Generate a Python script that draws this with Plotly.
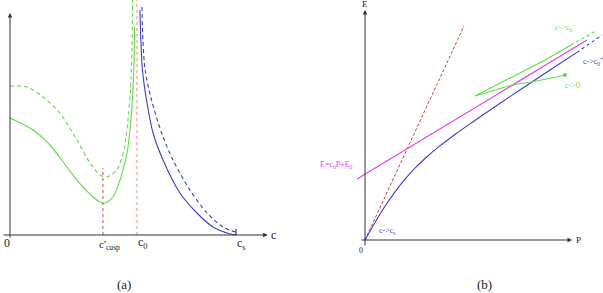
import plotly.graph_objects as go

# ---------------- Panel (a) data ----------------
green_solid_c = [0.0, 0.102, 0.177, 0.252, 0.323, 0.398, 0.420, 0.456, 0.487, 0.518, 0.535, 0.544, 0.549, 0.551]
green_solid_v = [1.17, 1.05, 0.90, 0.68, 0.48, 0.33, 0.32, 0.38, 0.55, 0.82, 1.15, 1.45, 1.75, 2.08]

green_dash_c = [0.0, 0.075, 0.146, 0.221, 0.296, 0.354, 0.398, 0.429, 0.473, 0.504, 0.522, 0.533, 0.540, 0.542]
green_dash_v = [1.49, 1.48, 1.38, 1.22, 0.95, 0.72, 0.60, 0.58, 0.65, 0.85, 1.15, 1.45, 1.85, 2.35]

blue_solid_c = [0.575, 0.579, 0.586, 0.604, 0.633, 0.677, 0.752, 0.827, 0.898, 0.960, 1.0]
blue_solid_v = [2.25, 1.95, 1.65, 1.35, 1.02, 0.75, 0.42, 0.22, 0.08, 0.02, 0.0]

blue_dash_c = [0.584, 0.588, 0.598, 0.626, 0.671, 0.721, 0.796, 0.872, 0.942, 0.996]
blue_dash_v = [2.28, 1.95, 1.65, 1.35, 1.02, 0.75, 0.45, 0.22, 0.08, 0.03]

c_cusp = 0.411
c_0 = 0.562
c_s = 1.0
cusp_line_top = 0.67
c0_line_top = 2.35

# ---------------- Panel (b) data ----------------
blue_P = [0.0, 0.10, 0.20, 0.30, 0.40, 0.50, 0.60, 0.73, 0.90, 1.07, 1.20, 1.45, 1.70, 1.95, 2.12]
blue_E = [0.0, 0.175, 0.337, 0.482, 0.609, 0.719, 0.815, 0.926, 1.055, 1.175, 1.265, 1.434, 1.60, 1.765, 1.876]
blue_ext_P = [2.12, 2.37]
blue_ext_E = [1.876, 2.05]

magenta_P = [-0.08, 2.22]
magenta_E = [0.61, 2.00]

red_P = [0.0, 0.99]
red_E = [0.0, 2.14]

green_up_P = [1.10, 1.45, 1.80, 2.06]
green_up_E = [1.44, 1.62, 1.80, 1.95]
green_ext_P = [2.06, 2.31]
green_ext_E = [1.95, 2.09]
green_low_P = [1.10, 1.30, 1.48, 1.72, 2.00]
green_low_E = [1.44, 1.50, 1.55, 1.59, 1.65]

GREEN = "#5fdc4a"
BLUE = "#3c3cc8"
MAGENTA = "#e63ce6"
RED = "#cc3a3a"
PINK = "#ffa0a0"
CUSPRED = "#e07070"
AXIS = "#333333"
FONT = "Liberation Serif"

fig = go.Figure()

def line(x, y, color, dash="solid", width=1.1, xa="x", ya="y", shape="spline"):
    fig.add_trace(go.Scatter(x=x, y=y, mode="lines", xaxis=xa, yaxis=ya,
                             line=dict(color=color, width=width, dash=dash, shape=shape,
                                       smoothing=0.8 if shape == "spline" else None),
                             hoverinfo="skip", showlegend=False))

# panel (a)
line([c_cusp, c_cusp], [0, cusp_line_top], CUSPRED, "dot", 1.3, shape="linear")
line([c_0, c_0], [0, c0_line_top], PINK, "dot", 1.3, shape="linear")
line(green_dash_c, green_dash_v, GREEN, "4px,3px")
line(green_solid_c, green_solid_v, GREEN)
line(blue_dash_c, blue_dash_v, BLUE, "4px,3px")
line(blue_solid_c, blue_solid_v, BLUE)
line([c_s, c_s], [0, 0.06], AXIS, width=1.2, shape="linear")

# panel (b)
line(red_P, red_E, RED, "3px,2px", 1.0, "x2", "y2", "linear")
line(magenta_P, magenta_E, MAGENTA, width=1.1, xa="x2", ya="y2", shape="linear")
line(blue_P, blue_E, BLUE, xa="x2", ya="y2")
line(blue_ext_P, blue_ext_E, BLUE, "3px,3px", xa="x2", ya="y2", shape="linear")
line(green_up_P, green_up_E, GREEN, xa="x2", ya="y2")
line(green_ext_P, green_ext_E, GREEN, "3px,3px", xa="x2", ya="y2", shape="linear")
line(green_low_P, green_low_E, GREEN, xa="x2", ya="y2")
fig.add_trace(go.Scatter(x=[green_low_P[-1]], y=[green_low_E[-1]], mode="markers",
                         xaxis="x2", yaxis="y2", marker=dict(color=GREEN, size=4),
                         hoverinfo="skip", showlegend=False))

anns = []
def arrow(x, y, ax, ay, xr, yr):
    anns.append(dict(x=x, y=y, ax=ax, ay=ay, xref=xr, yref=yr, axref=xr, ayref=yr,
                     text="", showarrow=True, arrowhead=2, arrowsize=0.9,
                     arrowwidth=1, arrowcolor=AXIS, standoff=0))

def label(x, y, text, xr, yr, color="#222222", size=10, xanchor="center"):
    anns.append(dict(x=x, y=y, xref=xr, yref=yr, text=text, showarrow=False,
                     xanchor=xanchor, yanchor="middle",
                     font=dict(family=FONT, size=size, color=color)))

# axes of (a)
arrow(1.14, 0, -0.035, 0, "x", "y")
arrow(0, 2.22, 0, -0.04, "x", "y")
label(-0.013, -0.075, "0", "x", "y", size=12)
label(0.385, -0.1, "c'<sub>cusp</sub>", "x", "y", size=11, xanchor="left")
label(0.588, -0.08, "c<sub>0</sub>", "x", "y", size=12)
label(1.025, -0.09, "c<sub>s</sub>", "x", "y", size=12)
label(1.168, 0.0, "c", "x", "y", size=12)

# axes of (b)
arrow(2.07, 0, -0.05, 0, "x2", "y2")
arrow(0, 2.30, 0, -0.07, "x2", "y2")
label(0.0, 2.36, "E", "x2", "y2", size=9)
label(2.13, 0.0, "P", "x2", "y2", size=9)
label(-0.04, -0.10, "0", "x2", "y2", size=8)
label(0.12, 0.09, "c->c<sub>s</sub>", "x2", "y2", color=BLUE, size=8, xanchor="left")
label(-0.10, 0.75, "E=c<sub>0</sub>P+E<sub>0</sub>", "x2", "y2", color=MAGENTA, size=8, xanchor="right")
label(2.0, 2.13, "c->c<sub>0</sub><sup>−</sup>", "x2", "y2", color=GREEN, size=8)
label(2.28, 1.79, "c->c<sub>0</sub><sup>+</sup>", "x2", "y2", color=BLUE, size=8)
label(2.07, 1.55, "c->0", "x2", "y2", color=GREEN, size=8)

# captions
for cx, txt in [(124, "(a)"), (484, "(b)")]:
    anns.append(dict(x=cx / 603, y=1 - 284 / 293, xref="paper", yref="paper", text=txt,
                     showarrow=False, xanchor="center", yanchor="middle",
                     font=dict(family=FONT, size=13, color="#222222")))

hidden = dict(visible=False, showgrid=False, zeroline=False)
fig.update_layout(
    width=603, height=293,
    margin=dict(l=0, r=0, t=0, b=0),
    paper_bgcolor="white", plot_bgcolor="white",
    xaxis=dict(domain=[0, 0.5], range=[-0.04425, 1.2898], **hidden),
    yaxis=dict(domain=[0, 1], range=[-0.58, 2.35], **hidden),
    xaxis2=dict(domain=[0.5, 1], range=[-0.635, 2.38], anchor="y2", **hidden),
    yaxis2=dict(domain=[0, 1], range=[-0.53, 2.40], anchor="x2", **hidden),
    annotations=anns,
    showlegend=False,
)

fig.write_html("out.html")
